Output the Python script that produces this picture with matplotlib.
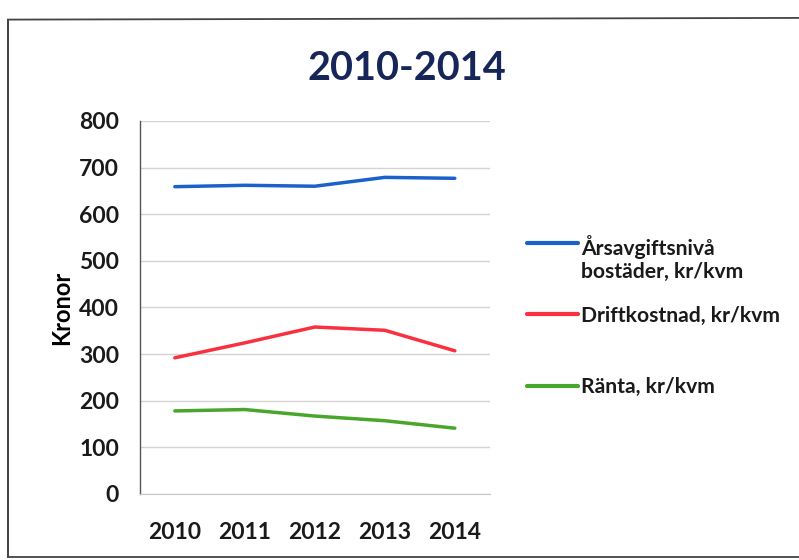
import matplotlib
matplotlib.use("Agg")
import matplotlib.pyplot as plt
from matplotlib.lines import Line2D
from matplotlib.legend_handler import HandlerLine2D

plt.rcParams['font.family'] = ['Lato', 'DejaVu Sans']

years = ['2010', '2011', '2012', '2013', '2014']
arsavgift = [659, 662, 660, 679, 677]
driftkostnad = [292, 324, 358, 351, 307]
ranta = [178, 181, 167, 157, 141]
labels = ['Årsavgiftsnivå\nbostäder, kr/kvm', 'Driftkostnad, kr/kvm', 'Ränta, kr/kvm']
colors = ['#1a62c8', '#f8303f', '#4aa62a']
yticks = [0, 100, 200, 300, 400, 500, 600, 700, 800]

fig = plt.figure(figsize=(7.99, 5.6), dpi=100)
ax = fig.add_axes([0.175, 0.118, 0.438, 0.666])

x = list(range(len(years)))
lines = []
for vals, lab, c in zip([arsavgift, driftkostnad, ranta], labels, colors):
    ln, = ax.plot(x, vals, color=c, lw=2.5, label=lab, solid_capstyle='round')
    lines.append(ln)

ax.set_xlim(-0.5, len(years) - 0.5)
ax.set_ylim(0, 800)
ax.set_yticks(yticks)
ax.set_yticklabels([str(v) for v in yticks], fontsize=16.5, fontweight='bold')
ax.set_xticks(x)
ax.set_xticklabels(years, fontsize=16.5, fontweight='bold')
ax.tick_params(axis='both', length=0, colors='#1a1a1a')
ax.tick_params(axis='y', pad=15)
ax.tick_params(axis='x', pad=20)
ax.grid(axis='y', color='#d4d4d4', lw=1)
ax.set_axisbelow(True)
for s in ['top', 'right']:
    ax.spines[s].set_visible(False)
ax.spines['left'].set_color('#555555')
ax.spines['left'].set_linewidth(1)
ax.spines['bottom'].set_color('#c8c8c8')

ax.set_ylabel('Kronor', fontsize=17, fontweight='bold', labelpad=4)

fig.text(0.509, 0.877, '2010-2014', fontsize=28.5, fontweight='bold',
         color='#172659', ha='center', va='center')


class TopLineHandler(HandlerLine2D):
    def __init__(self, shift=0.0, **kw):
        super().__init__(**kw)
        self.shift = shift

    def create_artists(self, legend, orig_handle, xdescent, ydescent,
                       width, height, fontsize, trans):
        arts = super().create_artists(legend, orig_handle, xdescent, ydescent,
                                      width, height, fontsize, trans)
        for a in arts:
            a.set_ydata([y + self.shift * fontsize for y in a.get_ydata()])
        return arts


legend_y = [0.538, 0.436, 0.309]
shifts = [0.75, 0.0, 0.0]
for ln, lab, yy, sh in zip(lines, labels, legend_y, shifts):
    leg = fig.legend([ln], [lab], loc='center left', bbox_to_anchor=(0.659, yy),
                     frameon=False, prop={'size': 15.2, 'weight': 'bold'},
                     handlelength=2.45, handletextpad=0.12, borderpad=0,
                     borderaxespad=0,
                     handler_map={ln: TopLineHandler(shift=sh)})
    for t in leg.get_texts():
        t.set_color('#1a1a1a')
    for h in leg.legend_handles:
        h.set_linewidth(3)

# figure border (scanned frame)
fig.add_artist(Line2D([0.010, 0.010], [0.005, 0.965], transform=fig.transFigure, color='#333333', lw=1.3))
fig.add_artist(Line2D([0.010, 1.0], [0.965, 0.968], transform=fig.transFigure, color='#444444', lw=1.3))
fig.add_artist(Line2D([0.010, 1.0], [0.006, 0.006], transform=fig.transFigure, color='#444444', lw=1.3))

fig.savefig('out.png', dpi=100)
